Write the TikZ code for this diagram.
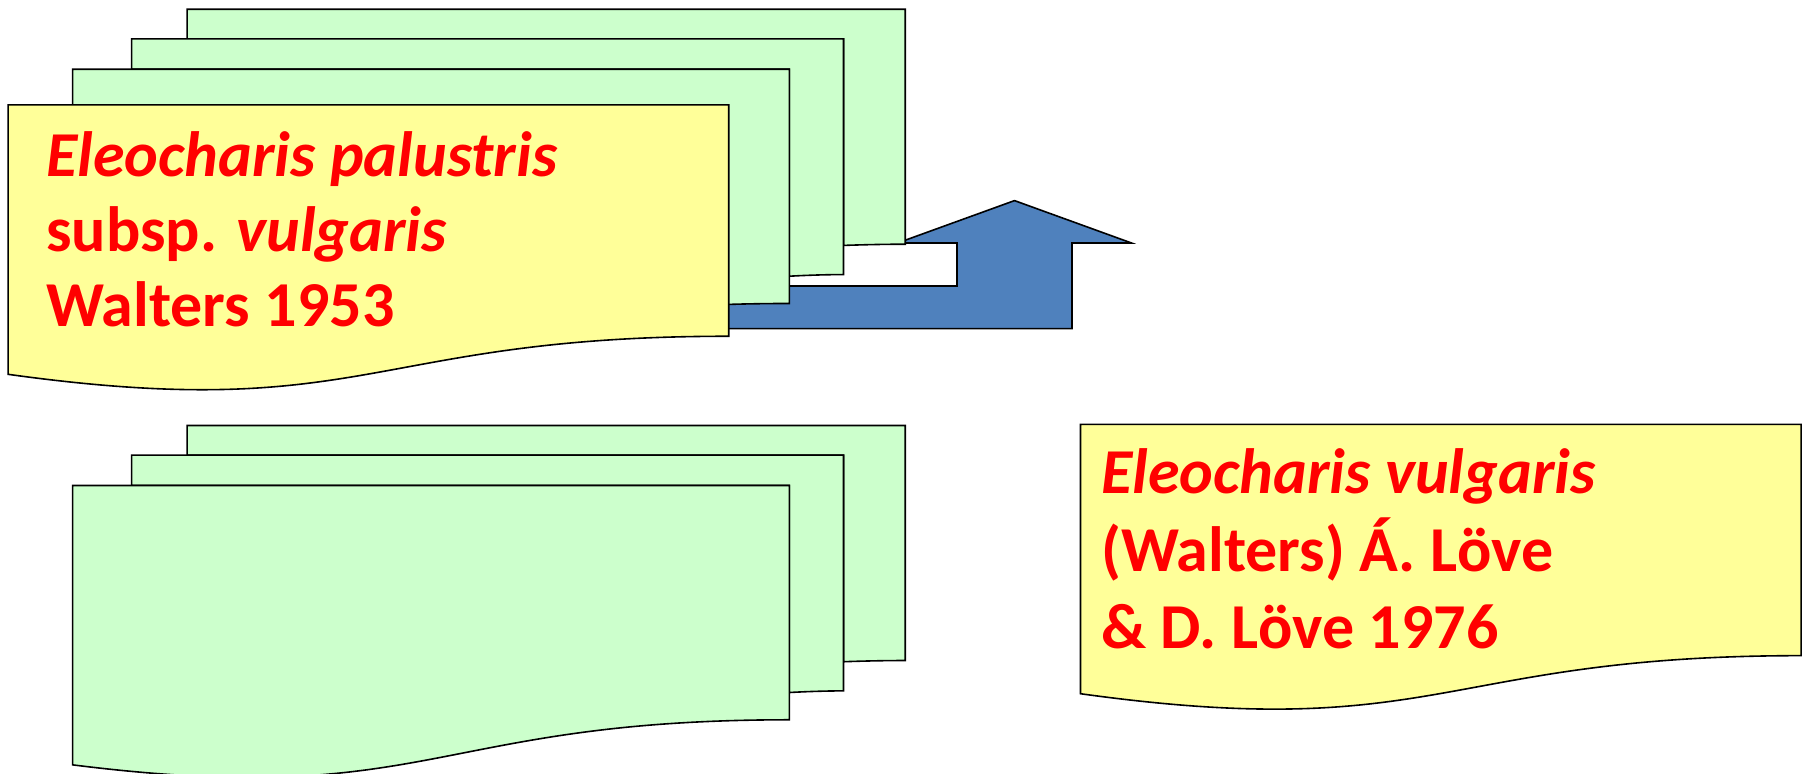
\documentclass[tikz,border=0pt]{standalone}
\usepackage{fontspec}
\setmainfont{Carlito}
\definecolor{docgreen}{HTML}{CCFFCC}
\definecolor{docyellow}{HTML}{FFFF99}
\definecolor{arrowblue}{HTML}{4F81BD}
\definecolor{txtred}{HTML}{FF0000}
\newcommand\MultiDocShape[2]{%
\begin{scope}[shift={(#1,#2)}, xscale=3.8546, yscale=1.6329]
\draw[outl, fill=docgreen] (29.72,18.15) -- (29.72,0) -- (216,0) -- (216,143.92) .. controls (208,143.92) and (200,144.67) .. (200,144.67) -- (200,18.15) -- cycle;
\draw[outl, fill=docgreen] (15.32,36.75) -- (15.32,18.15) -- (200,18.15) -- (200,162.52) .. controls (192.98,162.52) and (185.95,163.52) .. (185.95,163.52) -- (185.95,36.75) -- cycle;
\draw[outl, fill=docgreen] (0,207.82) .. controls (92.98,235.42) and (92.98,180.22) .. (185.95,180.22) -- (185.95,36.75) -- (0,36.75) -- cycle;
\end{scope}}
\newcommand\OneDocShape[2]{%
\begin{scope}[shift={(#1,#2)}, xscale=3.3361, yscale=1.3356]
\draw[outl, fill=docyellow] (0,0) -- (216,0) -- (216,173.22) .. controls (108,173.22) and (108,239.22) .. (0,201.72) -- cycle;
\end{scope}}
\begin{document}
\begin{tikzpicture}[x=1pt,y=-1pt,
  outl/.style={draw=black, line width=1.6pt, line join=miter},
  lbl/.style={anchor=base west, inner sep=0pt, text=txtred, font=\fontsize{64}{75}\selectfont\bfseries}]
\useasboundingbox (0,0) rectangle (1808,774);
% bent-up arrow
\draw[outl, fill=arrowblue] (600,286) -- (957,286) -- (957,243) -- (897.5,243) -- (1014.5,200.6) -- (1131.5,243) -- (1072,243) -- (1072,328.6) -- (600,328.6) -- cycle;
% upper group
\MultiDocShape{72.6}{9.2}
\OneDocShape{8.1}{104.9}
% lower group
\MultiDocShape{72.6}{425.5}
% right document
\OneDocShape{1080.5}{424.3}
% texts
\node[lbl] (a1) at (46,176) {\itshape Eleocharis palustris};
\node[lbl] (a2) at (46,251) {subsp. \textit{vulgaris}};
\node[lbl] (a3) at (46,326) {Walters 1953};
\node[lbl] (b1) at (1101,493.5) {\itshape Eleocharis vulgaris};
\node[lbl] (b2) at (1101,571) {(Walters) Á. Löve};
\node[lbl] (b3) at (1101,648) {\& D. Löve 1976};
\end{tikzpicture}
\end{document}
